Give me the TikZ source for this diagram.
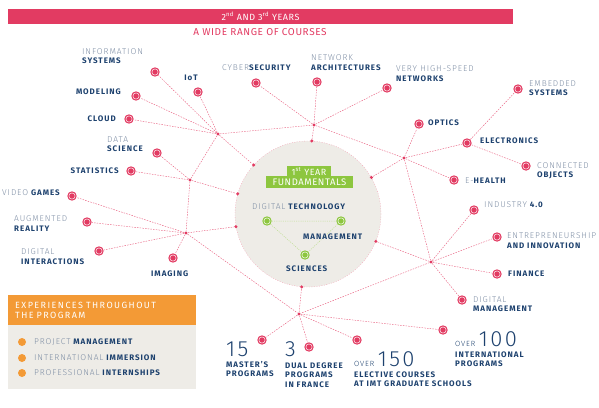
\documentclass[tikz,border=0pt]{standalone}
\usepackage{fontspec}
\setmainfont{Fira Sans}[LetterSpace=12]
\newfontfamily\lightfont{Fira Sans Light}[LetterSpace=11]
\newfontfamily\plainfont{Fira Sans}[LetterSpace=6]
\newfontfamily\widefont{Fira Sans}[LetterSpace=16]
\definecolor{pinkred}{HTML}{E23B62}
\definecolor{navy}{HTML}{1D416E}
\definecolor{greyblue}{HTML}{7D8DA4}
\definecolor{leaf}{HTML}{8DC63F}
\definecolor{tangerine}{HTML}{F39A36}
\definecolor{sand}{HTML}{EEECE7}
\newcommand\softword[1]{{\mdseries\lightfont\fontsize{8.4}{9.3}\selectfont\color{greyblue}#1}}
\tikzset{
  every node/.style={font=\fontsize{8}{9.3}\selectfont},
  lbl/.style={inner sep=0pt,align=left,text=navy,font=\fontsize{8}{9.3}\selectfont\bfseries},
  bignum/.style={inner sep=0pt,anchor=base west,text=navy,font=\mdseries\lightfont\fontsize{22}{22}\selectfont},
  course/.style={circle,fill=pinkred,inner sep=0pt,minimum size=9.4pt,
    path picture={\draw[white,line width=0.45pt] (path picture bounding box.center) circle (3.1pt);}},
  hub/.style={circle,fill=pinkred,inner sep=0pt,minimum size=3.4pt},
  link/.style={pinkred!80,line width=0.45pt,dash pattern=on 1.5pt off 1.2pt},
  greenlink/.style={leaf!60,line width=0.5pt,dash pattern=on 1pt off 1.2pt}
}
\begin{document}
\begin{tikzpicture}[x=1pt,y=-1pt]
  \path[use as bounding box] (0,0) rectangle (599,407);
  \node[fill=pinkred,text=white,minimum width=505pt,minimum height=15pt,inner sep=0pt,
    font=\plainfont\fontsize{9}{10}\selectfont] (banner) at (260.5,16.5) {2\textsuperscript{nd} AND 3\textsuperscript{rd} YEARS};
  \node[text=pinkred,font=\plainfont\fontsize{10}{11}\selectfont] (subtitle) at (260,32.5) {A WIDE RANGE OF COURSES};

  % first year core
  \node[circle,fill=sand,draw=pinkred!45,dash pattern=on 1pt off 1.5pt,minimum size=146pt,inner sep=0pt] (core) at (308,214) {};
  \node[fill=leaf,text=white,minimum width=44pt,minimum height=11pt,inner sep=0pt,
    font=\plainfont\fontsize{9}{10}\selectfont] (year) at (309,171.5) {1\textsuperscript{st} YEAR};
  \node[fill=leaf,text=white,minimum width=87pt,minimum height=12pt,inner sep=0pt,
    font=\plainfont\fontsize{9.5}{10}\selectfont] (fund) at (309.5,182) {FUNDAMENTALS};
  \node[course,fill=leaf] (gDT) at (267,221) {};
  \node[course,fill=leaf] (gMg) at (341,221) {};
  \node[course,fill=leaf] (gSci) at (305,255) {};
  \draw[greenlink] (gDT) -- (gMg) (gDT) -- (gSci) (gMg) -- (gSci);
  \node[lbl,anchor=west] (lDT) at (252,207) {\softword{DIGITAL} TECHNOLOGY};
  \node[lbl,anchor=west] (lMgmt) at (303,237) {MANAGEMENT};
  \node[lbl,anchor=west] (lSci) at (286,269) {SCIENCES};

  \node[hub] (p1) at (core.87) {};
  \node[hub] (p2) at (core.138) {};
  \node[hub] (p3) at (core.164) {};
  \node[hub] (p4) at (core.190) {};
  \node[hub] (p5) at (core.30) {};
  \node[hub] (p6) at (core.338) {};
  \node[hub] (p7) at (core.265) {};

  \node[hub] (hA) at (218,134) {};
  \node[hub] (hB) at (314,125) {};
  \node[hub] (hC) at (190,180) {};
  \node[hub] (hD) at (186,233) {};
  \node[hub] (hE) at (299,314) {};
  \node[hub] (hF) at (404,158) {};
  \node[hub] (hG) at (431,262) {};

  \node[course] (dIS) at (155,72) {};
  \node[course] (dIoT) at (198,92) {};
  \node[course] (dMod) at (136,96) {};
  \node[course] (dCloud) at (129,119) {};
  \node[course] (dDS) at (157,153) {};
  \node[course] (dStat) at (131,171) {};
  \node[course] (dCyber) at (256,83) {};
  \node[course] (dNet) at (317,82) {};
  \node[course] (dVHS) at (387,88) {};
  \node[course] (dEmb) at (518,89) {};
  \node[course] (dOpt) at (419,124) {};
  \node[course] (dElec) at (467,143) {};
  \node[course] (dConn) at (526,166) {};
  \node[course] (dEH) at (454,180) {};
  \node[course] (dInd) at (474,210) {};
  \node[course] (dEnt) at (497,237) {};
  \node[course] (dFin) at (497,274) {};
  \node[course] (dDM) at (462,300) {};
  \node[course] (dVG) at (72,196) {};
  \node[course] (dAR) at (87,222) {};
  \node[course] (dDI) at (99,251) {};
  \node[course] (dImg) at (173,258) {};
  \node[course] (dMast) at (262,340) {};
  \node[course] (dDual) at (309,347) {};
  \node[course] (dElect) at (357,340) {};
  \node[course] (dIntl) at (443,330) {};

  \foreach \d in {dIS,dIoT,dMod,dCloud,hB,p2,hC} \draw[link] (hA) -- (\d);
  \foreach \d in {dDS,dStat,p3,hD} \draw[link] (hC) -- (\d);
  \foreach \d in {dVG,dAR,dDI,dImg,p4,hE} \draw[link] (hD) -- (\d);
  \foreach \d in {dCyber,dNet,dVHS,p1,hF} \draw[link] (hB) -- (\d);
  \foreach \d in {dOpt,dElec,dEH,p5,hG} \draw[link] (hF) -- (\d);
  \foreach \d in {dEmb,dConn} \draw[link] (dElec) -- (\d);
  \foreach \d in {dInd,dEnt,dFin,dDM,p6,hE} \draw[link] (hG) -- (\d);
  \foreach \d in {dMast,dDual,dElect,dIntl,p7} \draw[link] (hE) -- (\d);

  \node[lbl,anchor=west] (lIS) at (82,56) {\softword{INFORMATION}\\SYSTEMS};
  \node[lbl] (lIoT) at (191,78) {IoT};
  \node[lbl,anchor=east] (lMod) at (121,92) {MODELING};
  \node[lbl,anchor=east] (lCloud) at (116,119) {CLOUD};
  \node[lbl,anchor=west] (lDS) at (107,144.5) {\softword{DATA}\\SCIENCE};
  \node[lbl,anchor=east] (lStat) at (119,171) {STATISTICS};
  \node[lbl,anchor=west] (lCyber) at (222,68) {\softword{CYBER}SECURITY};
  \node[lbl,anchor=west] (lNet) at (311,62.5) {\softword{NETWORK}\\ARCHITECTURES};
  \node[lbl,anchor=west] (lVHS) at (396,73.5) {\softword{VERY HIGH-SPEED}\\NETWORKS};
  \node[lbl,anchor=west] (lEmb) at (529,88.5) {\softword{EMBEDDED}\\SYSTEMS};
  \node[lbl,anchor=west] (lOpt) at (428,123) {OPTICS};
  \node[lbl,anchor=west] (lElec) at (480,141) {ELECTRONICS};
  \node[lbl,anchor=west] (lConn) at (537,170.5) {\softword{CONNECTED}\\OBJECTS};
  \node[lbl,anchor=west] (lEH) at (465,181) {\softword{E-}HEALTH};
  \node[lbl,anchor=west] (lInd) at (484,205) {\softword{INDUSTRY} 4.0};
  \node[lbl,anchor=west] (lEnt) at (507,240.5) {\softword{ENTREPRENEURSHIP}\\AND INNOVATION};
  \node[lbl,anchor=west] (lFin) at (508,274) {FINANCE};
  \node[lbl,anchor=west] (lDM) at (473,304) {\softword{DIGITAL}\\MANAGEMENT};
  \node[lbl,anchor=west] (lVG) at (2,193) {\softword{VIDEO} GAMES};
  \node[lbl,anchor=west] (lAR) at (14,223.5) {\softword{AUGMENTED}\\REALITY};
  \node[lbl,anchor=west] (lDI) at (21,256.5) {\softword{DIGITAL}\\INTERACTIONS};
  \node[lbl,anchor=west] (lImg) at (151,274) {IMAGING};

  % key figures
  \node[bignum] (n15) at (226,356) {15};
  \node[lbl,anchor=west] (l15) at (226,369) {MASTER'S\\PROGRAMS};
  \node[bignum] (n3) at (285,356) {3};
  \node[lbl,anchor=west] (l3) at (285,375) {DUAL DEGREE\\PROGRAMS\\IN FRANCE};
  \node[bignum] (n150) at (354,366) {{\fontsize{7.5}{8}\selectfont OVER}\,150};
  \node[lbl,anchor=west] (l150) at (354,379.5) {ELECTIVE COURSES\\AT IMT GRADUATE SCHOOLS};
  \node[bignum] (n100) at (455,346) {{\fontsize{7.5}{8}\selectfont OVER}\,100};
  \node[lbl,anchor=west] (l100) at (455,359.5) {INTERNATIONAL\\PROGRAMS};

  % experiences box
  \node[fill=tangerine,text=white,anchor=north west,minimum width=188pt,minimum height=30pt,
    text width=174pt,inner xsep=7pt,inner ysep=0pt,align=left,
    font=\widefont\fontsize{9}{10}\selectfont] (exphead) at (8,295) {EXPERIENCES THROUGHOUT\\THE PROGRAM};
  \node[fill=sand,anchor=north west,minimum width=188pt,minimum height=64pt,inner sep=0pt] (expbody) at (8,325) {};
  \node[circle,fill=tangerine,inner sep=0pt,minimum size=8pt] (b1) at (22,342) {};
  \node[circle,fill=tangerine,inner sep=0pt,minimum size=8pt] (b2) at (22,358) {};
  \node[circle,fill=tangerine,inner sep=0pt,minimum size=8pt] (b3) at (22,373) {};
  \node[lbl,anchor=west] (e1) at (34,342) {\softword{PROJECT} MANAGEMENT};
  \node[lbl,anchor=west] (e2) at (34,358) {\softword{INTERNATIONAL} IMMERSION};
  \node[lbl,anchor=west] (e3) at (34,373) {\softword{PROFESSIONAL} INTERNSHIPS};
\end{tikzpicture}
\end{document}
